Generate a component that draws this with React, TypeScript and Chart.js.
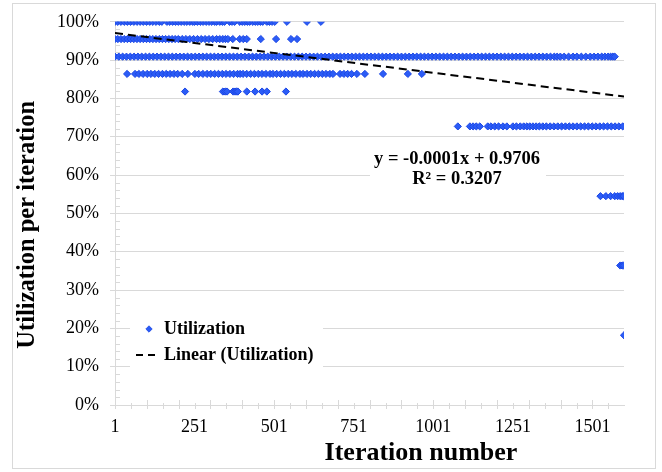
import React, { useEffect, useRef } from "react";
import { Chart, registerables } from "chart.js";

Chart.register(...registerables);

// ---- data ----
const seriesName = "Utilization";
const trendName = "Linear (Utilization)";
const xTitle = "Iteration number";
const yTitle = "Utilization per iteration";
const trendEquation = ["y = -0.0001x + 0.9706", "R\u00B2 = 0.3207"];

const xMin = 1;
const xMax = 1600;
const xTickLabels = [1, 251, 501, 751, 1001, 1251, 1501];

// utilization levels (fraction) and the iterations observed at each level
const levels = [1.0, 0.955, 0.909, 0.864, 0.818, 0.727, 0.545, 0.364, 0.182];

const iter100 = [1, 10, 20, 30, 40, 50, 60, 70, 80, 90, 100, 110, 120, 130, 140, 148,
  164, 173, 182, 191, 200, 209, 218, 227, 236, 245, 251, 260, 269, 278, 287, 296, 305, 314, 320,
  330, 338, 345, 361, 369, 377, 393, 401, 409, 417, 424, 434, 442, 450, 458, 465,
  478, 486, 494, 503, 541, 604, 648];

const iter95 = [1, 10, 20, 30, 40, 50, 60, 70, 80, 90, 100, 110, 120, 130, 140, 150, 160, 170,
  180, 190, 200, 212, 224, 236, 248, 260, 272, 284, 296, 308, 320, 330, 340, 348, 356,
  371, 393, 404, 415, 459, 507, 554, 573];

const iter91 = [1, 13, 25, 37, 49, 61, 73, 85, 97, 109,
  121, 133, 145, 157, 169, 181, 193, 205, 217, 229,
  241, 253, 265, 277, 289, 301, 313, 325, 337, 349,
  361, 373, 385, 397, 409, 421, 433, 445, 457, 469,
  481, 493, 505, 517, 529, 541, 553, 565, 577, 589,
  601, 613, 625, 637, 649, 661, 673, 685, 697, 709,
  721, 733, 745, 757, 769, 781, 793, 805, 817, 829,
  841, 853, 865, 877, 889, 901, 913, 925, 937, 949,
  961, 973, 985, 997, 1009, 1021, 1033, 1045, 1057, 1069,
  1081, 1093, 1105, 1117, 1129, 1141, 1153, 1165, 1177, 1189,
  1201, 1213, 1225, 1237, 1249, 1261, 1273, 1285, 1297, 1309,
  1321, 1333, 1345, 1357, 1369, 1381, 1390,
  1400, 1412, 1426, 1440, 1452, 1466, 1480, 1494, 1506, 1518, 1530, 1540, 1550, 1558, 1565, 1571];

const iter86 = [39, 64, 76, 89, 102, 114, 126, 138, 150, 162, 174, 186, 198, 212, 230,
  252, 264, 277, 290, 302, 314, 326, 338, 350, 362, 374, 386, 394, 403, 415, 427, 439, 451,
  463, 475, 488, 497, 509, 521, 533, 545, 557, 569, 582, 592, 604, 616, 628, 640, 652, 664,
  676, 686, 708, 720, 732, 744, 761, 786, 843, 921, 965];

const iter82 = [221, 340, 347, 353, 372, 378, 383, 387, 415, 441, 463, 478, 538];

const iter73 = [1078, 1116, 1126, 1136, 1147, 1172, 1182, 1194, 1206, 1220, 1232, 1251, 1262,
  1274, 1285, 1295, 1304, 1314, 1324, 1334, 1345, 1356, 1368, 1380, 1392, 1404, 1416, 1428,
  1440, 1452, 1464, 1476, 1488, 1500, 1512, 1524, 1536, 1548, 1560, 1572, 1584, 1596];

const iter55 = [1526, 1543, 1558, 1571, 1580, 1588, 1594, 1599];
const iter36 = [1588, 1594, 1599];
const iter18 = [1600];

const levelIterations = [iter100, iter95, iter91, iter86, iter82, iter73, iter55, iter36, iter18];

// linear trendline end points
const trendX = [1, 1600];
const trendY = [0.9705, 0.805];

// ---- styles ----
const FONT = '"Liberation Serif", "Times New Roman", serif';
const GRID = "#d9d9d9";
const MARKER_FILL = "#2b5cf6";
const MARKER_EDGE = "#1d48e6";

const decor = {
  id: "decor",
  beforeDraw(chart: any) {
    const ctx = chart.ctx;
    ctx.save();
    ctx.fillStyle = "#ffffff";
    ctx.fillRect(0, 0, chart.width, chart.height);
    ctx.strokeStyle = GRID;
    ctx.lineWidth = 1;
    ctx.strokeRect(12.5, 3.5, 643, 465);
    ctx.restore();
  },
  beforeDatasetsDraw(chart: any) {
    const { ctx, chartArea: ca, scales } = chart;
    const x = scales.x;
    const y = scales.y;
    ctx.save();
    ctx.strokeStyle = GRID;
    ctx.lineWidth = 1;
    ctx.beginPath();
    for (let v = xMin, k = 0; v <= xMax; v += 50, k++) {
      const px = Math.round(x.getPixelForValue(v)) + 0.5;
      const major = k % 2 === 0;
      ctx.moveTo(px, ca.bottom - (major ? 5 : 2));
      ctx.lineTo(px, ca.bottom + 4);
    }
    for (let i = 1; i < 50; i++) {
      if (i % 5 === 0) continue;
      const py = Math.round(y.getPixelForValue(i * 0.02)) + 0.5;
      ctx.moveTo(ca.left, py);
      ctx.lineTo(ca.left + 5, py);
    }
    ctx.stroke();
    ctx.restore();
  },
  afterDraw(chart: any) {
    const { ctx, chartArea: ca } = chart;
    ctx.save();
    // legend
    ctx.fillStyle = "#ffffff";
    ctx.fillRect(ca.left + 15, ca.bottom - 92, 193, 55);
    ctx.beginPath();
    const dx = ca.left + 34, dy = ca.bottom - 76, r = 3.2;
    ctx.moveTo(dx - r, dy);
    ctx.lineTo(dx, dy - r);
    ctx.lineTo(dx + r, dy);
    ctx.lineTo(dx, dy + r);
    ctx.closePath();
    ctx.fillStyle = MARKER_FILL;
    ctx.fill();
    ctx.strokeStyle = MARKER_EDGE;
    ctx.lineWidth = 0.8;
    ctx.stroke();
    ctx.strokeStyle = "#000";
    ctx.lineWidth = 2;
    ctx.setLineDash([7, 5]);
    ctx.beginPath();
    ctx.moveTo(ca.left + 21, ca.bottom - 50);
    ctx.lineTo(ca.left + 42, ca.bottom - 50);
    ctx.stroke();
    ctx.setLineDash([]);
    ctx.fillStyle = "#000";
    ctx.font = `bold 18px ${FONT}`;
    ctx.textAlign = "left";
    ctx.textBaseline = "middle";
    ctx.fillText(seriesName, ca.left + 49, ca.bottom - 76);
    ctx.fillText(trendName, ca.left + 49, ca.bottom - 50);

    // trendline equation label
    ctx.fillStyle = "#ffffff";
    ctx.fillRect(ca.left + 255, ca.top + 125, 176, 44);
    ctx.fillStyle = "#000";
    ctx.font = `bold 18.5px ${FONT}`;
    ctx.textAlign = "center";
    ctx.fillText(trendEquation[0], ca.left + 342, ca.top + 137);
    ctx.fillText(trendEquation[1], ca.left + 342, ca.top + 157);

    // axis titles
    ctx.font = `bold 26px ${FONT}`;
    ctx.textAlign = "center";
    ctx.fillText(xTitle, ca.left + 306, ca.bottom + 48);
    ctx.save();
    ctx.translate(28, ca.top + 203);
    ctx.rotate(-Math.PI / 2);
    ctx.font = `bold 24.5px ${FONT}`;
    ctx.fillText(yTitle, 0, 0);
    ctx.restore();
    ctx.restore();
  },
};

export default function App() {
  const ref = useRef<HTMLCanvasElement>(null);
  useEffect(() => {
    const points = levels.flatMap((lv, i) => levelIterations[i].map((it) => ({ x: it, y: lv })));
    const trend = trendX.map((xv, i) => ({ x: xv, y: trendY[i] }));
    const chart = new Chart(ref.current as HTMLCanvasElement, {
      type: "scatter",
      data: {
        datasets: [
          {
            label: seriesName,
            data: points,
            pointStyle: "rectRot",
            pointRadius: 3.6,
            backgroundColor: MARKER_FILL,
            borderColor: MARKER_EDGE,
            borderWidth: 1,
            order: 1,
          },
          {
            label: trendName,
            data: trend,
            showLine: true,
            borderColor: "#000",
            borderWidth: 2,
            borderDash: [8, 5],
            pointRadius: 0,
            fill: false,
            order: 0,
          },
        ],
      },
      options: {
        responsive: false,
        animation: false,
        layout: { padding: { top: 17, right: 38, left: 0, bottom: 0 } },
        plugins: { legend: { display: false }, tooltip: { enabled: false } },
        scales: {
          x: {
            type: "linear",
            min: xMin,
            max: xMax,
            afterBuildTicks: (s: any) => {
              s.ticks = xTickLabels.map((v) => ({ value: v }));
            },
            afterFit: (s: any) => {
              s.height = 67;
            },
            grid: { display: false, drawTicks: false },
            border: { display: true, color: GRID },
            ticks: {
              autoSkip: false,
              maxRotation: 0,
              padding: 11,
              color: "#000",
              font: { family: FONT, size: 18 },
              callback: (v: any) => String(v),
            },
          },
          y: {
            min: 0,
            max: 1,
            afterFit: (s: any) => {
              s.width = 115;
            },
            ticks: {
              stepSize: 0.1,
              padding: 11,
              color: "#000",
              font: { family: FONT, size: 18 },
              callback: (v: any) => Math.round(Number(v) * 100) + "%",
            },
            grid: { color: GRID, tickLength: 5, tickColor: GRID },
            border: { color: GRID },
          },
        },
      },
      plugins: [decor],
    } as any);
    return () => chart.destroy();
  }, []);
  return (
    <div style={{ position: "absolute", left: 0, top: 0, width: 662, height: 472 }}>
      <canvas ref={ref} width={662} height={472} style={{ display: "block" }} />
    </div>
  );
}
